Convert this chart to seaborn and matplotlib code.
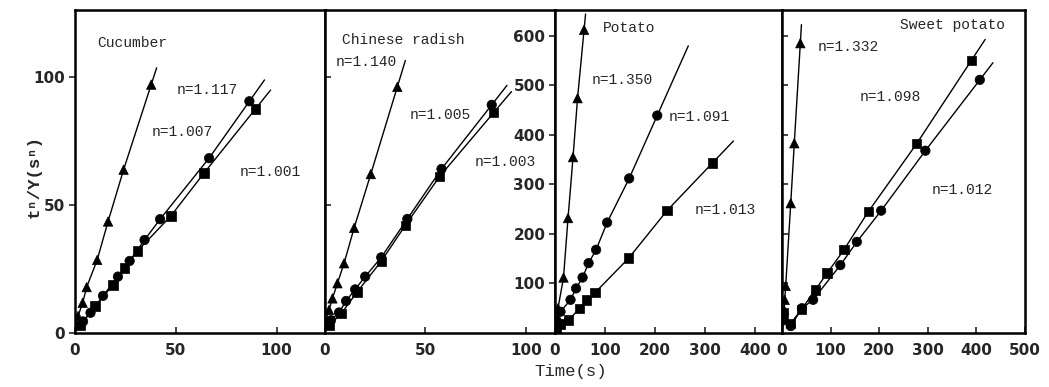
import numpy as np
import pandas as pd
import matplotlib
matplotlib.use("Agg")
import matplotlib.pyplot as plt
import seaborn as sns

# ---------------- data ----------------
# Cucumber
cuc_tri_x = [1.5, 3.8, 5.8, 11.0, 16.4, 24.1, 37.8]
cuc_tri_y = [6.6, 11.8, 17.9, 28.5, 43.5, 63.7, 96.9]
cuc_cir_x = [4.0, 7.7, 13.9, 21.3, 27.1, 34.5, 42.2, 66.5, 86.5]
cuc_cir_y = [4.5, 7.9, 14.5, 22.0, 28.1, 36.3, 44.4, 68.2, 90.4]
cuc_sq_x = [2.5, 10.0, 18.9, 24.6, 31.0, 47.6, 64.0, 89.5]
cuc_sq_y = [3.0, 10.5, 18.8, 25.3, 32.0, 45.7, 62.4, 87.4]
cuc_line_end = [40.5, 94.0, 97.0]
cuc_n = ["n=1.117", "n=1.007", "n=1.001"]

# Chinese radish
rad_tri_x = [2.0, 3.7, 6.2, 9.5, 14.5, 22.8, 36.0]
rad_tri_y = [9.0, 13.5, 19.4, 27.2, 41.0, 62.0, 96.0]
rad_cir_x = [3.0, 7.0, 10.5, 15.0, 20.0, 28.0, 41.0, 58.0, 83.0]
rad_cir_y = [5.0, 8.0, 12.5, 17.0, 22.0, 29.5, 44.5, 64.0, 89.0]
rad_sq_x = [2.0, 8.0, 16.0, 28.0, 40.0, 57.0, 84.0]
rad_sq_y = [3.0, 7.5, 16.0, 28.0, 42.0, 61.0, 86.0]
rad_line_end = [40.0, 90.6, 92.8]
rad_n = ["n=1.140", "n=1.005", "n=1.003"]

# Potato
pot_tri_x = [2.0, 6.0, 17.0, 26.0, 36.0, 45.0, 58.0]
pot_tri_y = [15.0, 50.0, 112.0, 232.0, 355.0, 474.0, 612.0]
pot_cir_x = [3.0, 11.0, 31.0, 42.0, 55.0, 67.0, 82.0, 104.0, 148.0, 204.0]
pot_cir_y = [25.0, 43.0, 67.0, 90.0, 112.0, 141.0, 168.0, 223.0, 312.0, 439.0]
pot_sq_x = [3.0, 10.0, 27.5, 49.0, 63.0, 80.0, 147.0, 223.5, 314.0]
pot_sq_y = [10.0, 18.0, 26.0, 50.0, 67.0, 81.5, 151.0, 247.0, 343.0]
pot_line_end = [61.0, 266.0, 356.0]
pot_n = ["n=1.350", "n=1.091", "n=1.013"]

# Sweet potato
swe_tri_x = [3.0, 4.5, 5.5, 7.6, 18.0, 25.3, 37.7]
swe_tri_y = [26.0, 46.0, 67.0, 95.0, 262.0, 383.0, 585.0]
swe_cir_x = [2.0, 18.0, 41.0, 64.0, 120.0, 154.0, 204.0, 295.0, 407.0]
swe_cir_y = [30.0, 14.0, 50.0, 67.0, 137.0, 184.0, 247.0, 368.0, 511.0]
swe_sq_x = [2.0, 18.0, 40.5, 68.5, 93.0, 127.5, 177.6, 277.0, 389.5]
swe_sq_y = [40.0, 19.5, 48.0, 87.0, 121.0, 168.0, 245.0, 382.0, 550.0]
swe_line_end = [40.0, 434.0, 418.0]
swe_n = ["n=1.332", "n=1.012", "n=1.098"]

panel_names = ["Cucumber", "Chinese radish", "Potato", "Sweet potato"]
x_ticks = [[0, 50, 100], [0, 50, 100], [0, 100, 200, 300, 400], [0, 100, 200, 300, 400, 500]]
y_ticks = [[0, 50, 100], [50, 100], [100, 200, 300, 400, 500, 600], [100, 200, 300, 400, 500, 600]]
x_lims = [(0, 124), (0, 114.5), (0, 453), (0, 500)]
y_lims = [(0, 126), (0, 126), (0, 652), (0, 652)]

# ---------------- styling / layout ----------------
sns.set_style("ticks")
plt.rcParams["font.family"] = ["DejaVu Sans"]
MONO = ["Liberation Mono", "DejaVu Sans Mono"]

W, H = 1049, 387
fig = plt.figure(figsize=(W / 100, H / 100), dpi=100)

edges = [75, 325, 555, 782, 1025]
top_px, bot_px = 10, 333

panels = [
    (cuc_tri_x, cuc_tri_y, cuc_cir_x, cuc_cir_y, cuc_sq_x, cuc_sq_y, cuc_line_end, cuc_n),
    (rad_tri_x, rad_tri_y, rad_cir_x, rad_cir_y, rad_sq_x, rad_sq_y, rad_line_end, rad_n),
    (pot_tri_x, pot_tri_y, pot_cir_x, pot_cir_y, pot_sq_x, pot_sq_y, pot_line_end, pot_n),
    (swe_tri_x, swe_tri_y, swe_cir_x, swe_cir_y, swe_sq_x, swe_sq_y, swe_line_end, swe_n),
]

# label positions (axes fraction)
name_pos = [(0.088, 0.898), (0.074, 0.907), (0.21, 0.944), (0.486, 0.954)]
n_pos = [
    [(0.408, 0.752), (0.308, 0.622), (0.66, 0.498)],
    [(0.048, 0.839), (0.37, 0.675), (0.65, 0.53)],
    [(0.163, 0.783), (0.50, 0.669), (0.617, 0.381)],
    [(0.148, 0.885), (0.617, 0.443), (0.32, 0.73)],
]


def extend(x, y, x1):
    """Extend the polyline back to x=0 and forward to x1 along end segments."""
    x = np.asarray(x, float)
    y = np.asarray(y, float)
    s0 = (y[1] - y[0]) / (x[1] - x[0])
    s1 = (y[-1] - y[-2]) / (x[-1] - x[-2])
    y0 = y[0] - s0 * x[0]
    ye = y[-1] + s1 * (x1 - x[-1])
    return np.r_[0.0, x, x1], np.r_[y0, y, ye]


markers = {"tri": "^", "cir": "o", "sq": "s"}

for i, (tx, ty, cx, cy, sx, sy, ends, nlab) in enumerate(panels):
    l, r = edges[i], edges[i + 1]
    ax = fig.add_axes([l / W, 1 - bot_px / H, (r - l) / W, (bot_px - top_px) / H])
    series = [("tri", tx, ty), ("cir", cx, cy), ("sq", sx, sy)]
    for k, (name, xs, ys) in enumerate(series):
        lx, ly = extend(xs, ys, ends[k])
        sns.lineplot(x=lx, y=ly, ax=ax, color="black", lw=1.0, sort=False,
                     estimator=None, zorder=2)
    df = pd.concat([pd.DataFrame({"t": xs, "v": ys, "s": name}) for name, xs, ys in series])
    sns.scatterplot(data=df, x="t", y="v", style="s", markers=markers, color="black",
                    s=46, edgecolor="black", linewidth=0.5, legend=False, ax=ax, zorder=3)
    ax.set_xlim(*x_lims[i])
    ax.set_ylim(*y_lims[i])
    ax.set_xticks(x_ticks[i])
    ax.set_yticks(y_ticks[i])
    ax.set_xlabel("")
    ax.set_ylabel("")
    for sp in ax.spines.values():
        sp.set_linewidth(1.8)
        sp.set_color("black")
    ax.tick_params(axis="x", direction="in", length=4, width=1.2, pad=7,
                   labelsize=11)
    if i in (0, 2):
        ax.tick_params(axis="y", direction="out", length=4, width=1.2, pad=3, labelsize=11)
    else:
        ax.tick_params(axis="y", direction="in", length=4, width=1.2, labelleft=False)
    for lab in ax.get_xticklabels() + ax.get_yticklabels():
        lab.set_fontweight("bold")
    ax.text(*name_pos[i], panel_names[i], transform=ax.transAxes, family=MONO,
            fontsize=10.5, ha="left", va="center")
    for k in range(3):
        ax.text(*n_pos[i][k], nlab[k], transform=ax.transAxes, family=MONO,
                fontsize=10.5, ha="left", va="center")
    ax.set_facecolor("white")

fig.text(0.544, 0.039, "Time(s)", family=MONO, fontsize=12.5, ha="center", va="center")
fig.text(0.033, 0.543, "t\u207f/Y(s\u207f)", family=MONO, fontsize=12.5, fontweight="bold",
         rotation=90, ha="center", va="center")

fig.savefig("out.png", dpi=100, facecolor="white")
